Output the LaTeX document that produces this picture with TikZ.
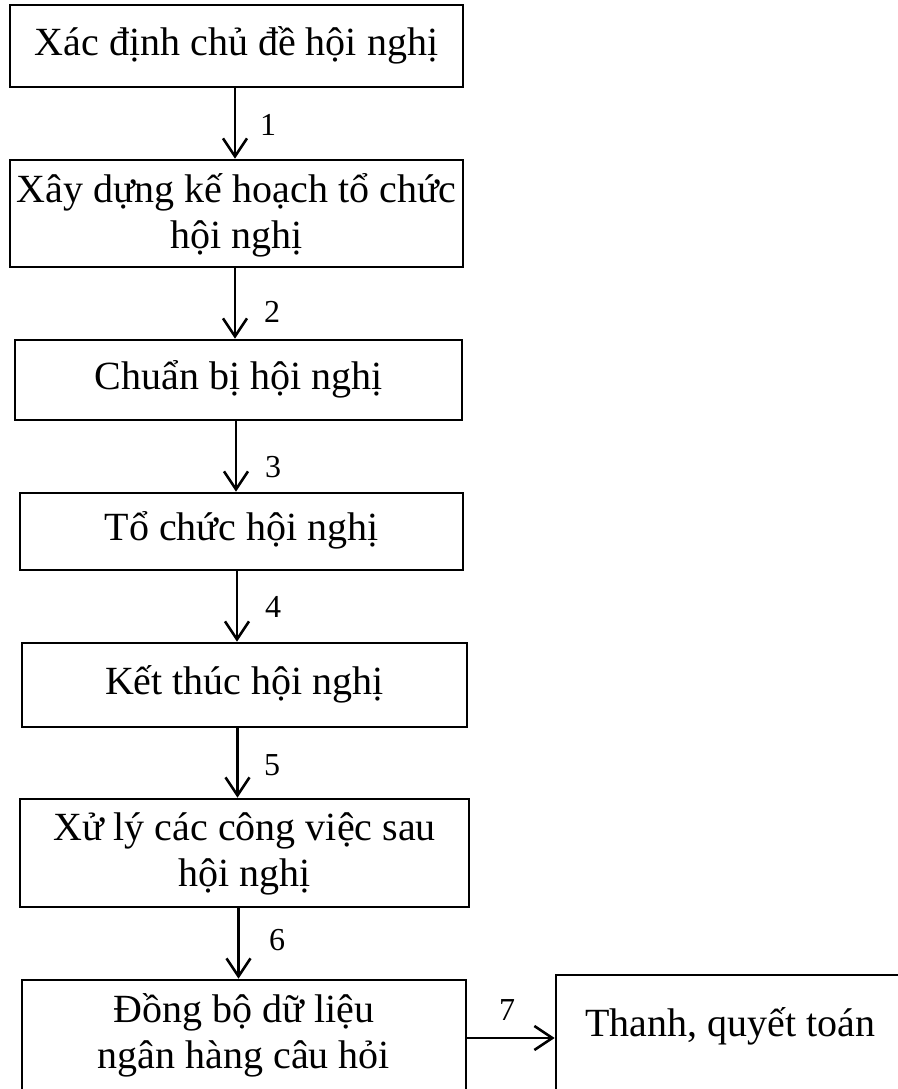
\documentclass[tikz,border=0pt]{standalone}
\usepackage{fontspec}
\setmainfont{Liberation Serif}
\usetikzlibrary{arrows.meta,calc}
\newcommand\lowr[2]{\raisebox{#1}[\height][\depth]{\begin{tabular}{@{}c@{}}#2\end{tabular}}}
\begin{document}
\begin{tikzpicture}[x=1pt,y=-1pt,
  box/.style={draw,line width=2.6pt,rectangle,inner sep=0pt,align=center,font=\fontsize{40}{46}\selectfont},
  arr/.style={line width=2.6pt,-{Straight Barb[length=18pt,width=24pt,line width=2.6pt]}},
  num/.style={font=\fontsize{32}{32}\selectfont,inner sep=0pt},
  txt/.style={font=\fontsize{40}{46}\selectfont,inner sep=0pt}]
\useasboundingbox (0,0) rectangle (897,1089);
\node[box,minimum width=453pt,minimum height=82pt] (b1) at (236.5,46) {\lowr{0pt}{Xác định chủ đề hội nghị}};
\node[box,minimum width=453pt,minimum height=107pt] (b2) at (236.5,213.5) {\lowr{-3pt}{Xây dựng kế hoạch tổ chức\\hội nghị}};
\node[box,minimum width=447pt,minimum height=80pt] (b3) at (238.5,380) {\lowr{0pt}{Chuẩn bị hội nghị}};
\node[box,minimum width=443pt,minimum height=77pt] (b4) at (241.5,531.5) {\lowr{0pt}{Tổ chức hội nghị}};
\node[box,minimum width=445pt,minimum height=84pt] (b5) at (244.5,685) {\lowr{0pt}{Kết thúc hội nghị}};
\node[box,minimum width=449pt,minimum height=108pt] (b6) at (244.5,853) {\lowr{-1pt}{Xử lý các công việc sau\\hội nghị}};
\node[box,minimum width=444pt,minimum height=112pt] (b7) at (244,1036) {\lowr{0pt}{Đồng bộ dữ liệu\\ngân hàng câu hỏi}};
\node[box,minimum width=354pt,minimum height=125pt] (b8) at (733,1037.5) {};
\node[txt] (t8) at (730,1026) {Thanh, quyết toán};
\draw[arr] ([xshift=-1.5pt]b1.south) -- ([xshift=-1.5pt]b1.south |- b2.north);
\draw[arr] ([xshift=-1.5pt]b2.south) -- ([xshift=-1.5pt]b2.south |- b3.north);
\draw[arr] ([xshift=-2.5pt]b3.south) -- ([xshift=-2.5pt]b3.south |- b4.north);
\draw[arr] ([xshift=-4.5pt]b4.south) -- ([xshift=-4.5pt]b4.south |- b5.north);
\draw[arr] ([xshift=-7pt]b5.south) -- ([xshift=-7pt]b5.south |- b6.north);
\draw[arr] ([xshift=-6pt]b6.south) -- ([xshift=-6pt]b6.south |- b7.north);
\draw[arr] ([yshift=-2pt]b7.east) -- ([yshift=-2pt]b7.east -| b8.west);
\node[num] (l1) at (268,125) {1};
\node[num] (l2) at (272,312) {2};
\node[num] (l3) at (273,467) {3};
\node[num] (l4) at (273,607) {4};
\node[num] (l5) at (272,765) {5};
\node[num] (l6) at (277,940) {6};
\node[num] (l7) at (507,1010) {7};
\end{tikzpicture}
\end{document}
